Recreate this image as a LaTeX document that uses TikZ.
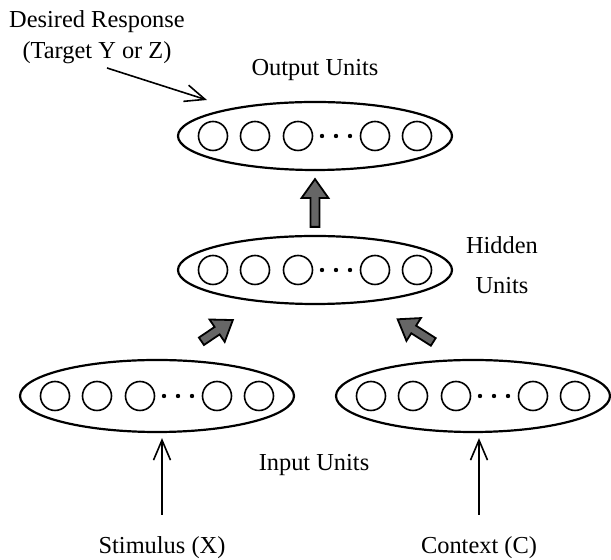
\documentclass[tikz,border=0pt]{standalone}
\usepackage{fontspec}
\setmainfont{Liberation Serif}
\usetikzlibrary{shapes.geometric,arrows.meta,calc}

\begin{document}
\begin{tikzpicture}[x=0.5pt,y=-0.5pt]

  \tikzstyle{layer} = [ellipse, draw, line width=1.1pt, minimum width=137pt, inner sep=0pt];
  \tikzstyle{unit} = [circle, draw, line width=0.8pt, minimum size=14.5pt, inner sep=0pt];
  \tikzstyle{lbl} = [font=\fontsize{12.2}{15.5}\selectfont, inner sep=2pt];
  \tikzstyle{pointer} = [line width=0.8pt, -{Straight Barb[length=10pt,width=8.5pt]}];
  % thick grey block arrow, #1 = gap left at both ends
  \tikzset{fatarrow/.style={fill=black!60, draw=black, line width=0.9pt,
    to path={let \p1=($(\tikztostart)!#1!(\tikztotarget)$),
                 \p2=($(\tikztotarget)!#1!(\tikztostart)$) in
      ($(\p1)!2.25pt!90:(\p2)$)
      -- ($(\p2)!9.5pt!(\p1)!2.25pt!-90:(\p1)$)
      -- ($(\p2)!9.5pt!(\p1)!6.75pt!-90:(\p1)$)
      -- (\p2)
      -- ($(\p2)!9.5pt!(\p1)!6.75pt!90:(\p1)$)
      -- ($(\p2)!9.5pt!(\p1)!2.25pt!90:(\p1)$)
      -- ($(\p1)!2.25pt!-90:(\p2)$) -- cycle}},
    fatarrow/.default=4pt}

  \useasboundingbox (0,0) rectangle (611,560);

  % the four layers of units
  \foreach \n/\x/\y/\h in {out/315/136/34pt, hid/315/270/34pt, inX/157/396/36pt, inC/473/396/36pt} {
    \node[layer, minimum height=\h] (\n) at (\x,\y) {};
    \foreach \dx [count=\i] in {-102,-60,-17,60,102}
      \node[unit] (\n-\i) at (\x+\dx,\y) {};
    \foreach \dx in {7,21,35}
      \fill (\x+\dx,\y) circle[radius=1.1pt];
  }

  \node[lbl, align=center] (desired) at (97,37) {Desired Response\\(Target Y or Z)};
  \node[lbl] (outlab) at (315,70) {Output Units};
  \node[lbl, align=center, font=\fontsize{12.2}{20}\selectfont] (hidlab) at (502,265) {Hidden\\Units};
  \node[lbl] (inlab) at (314,465) {Input Units};
  \node[lbl] (stim) at (162,548) {Stimulus (X)};
  \node[lbl] (ctx) at (479,548) {Context (C)};
  \coordinate (aim) at (207,100);

  \draw[pointer] ([xshift=5pt]desired.south) -- (aim);
  \draw[pointer, shorten <=9pt, shorten >=2.5pt] (stim) -- (stim |- inX.south);
  \draw[pointer, shorten <=9pt, shorten >=2.5pt] (ctx) -- (ctx |- inC.south);

  \draw[fatarrow] (hid.north) to (out.south);
  \draw[fatarrow=16pt] (inX.64) to (hid.210);
  \draw[fatarrow=16pt] (inC.109) to (hid.330);
\end{tikzpicture}
\end{document}
